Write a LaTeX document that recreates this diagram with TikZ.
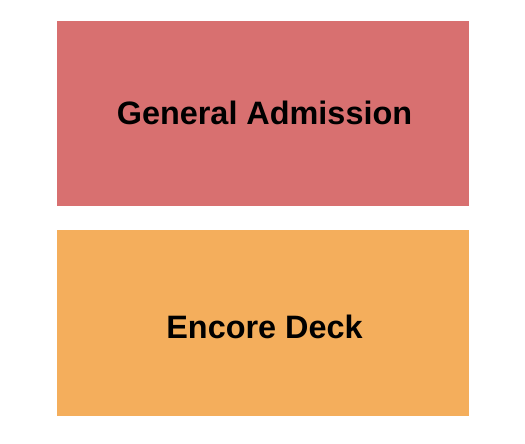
\documentclass[tikz,border=0pt]{standalone}
\usepackage{fontspec}
\setmainfont{Liberation Sans}
\definecolor{garea}{HTML}{D87070}
\definecolor{earea}{HTML}{F4AE5C}
\begin{document}
\begin{tikzpicture}[x=1pt,y=-1pt,
  section/.style={inner sep=0pt,outer sep=0pt,anchor=north west},
  lbl/.style={font=\fontsize{32.4}{38}\selectfont\bfseries,text=black}]
\useasboundingbox (0,0) rectangle (525,444);
\fill[garea] (57,21) rectangle (469,206);
\fill[earea] (57,230) rectangle (469,416);
\node[lbl] (ga) at (264.5,113) {General Admission};
\node[lbl] (ed) at (264.5,327) {Encore Deck};
\end{tikzpicture}
\end{document}
